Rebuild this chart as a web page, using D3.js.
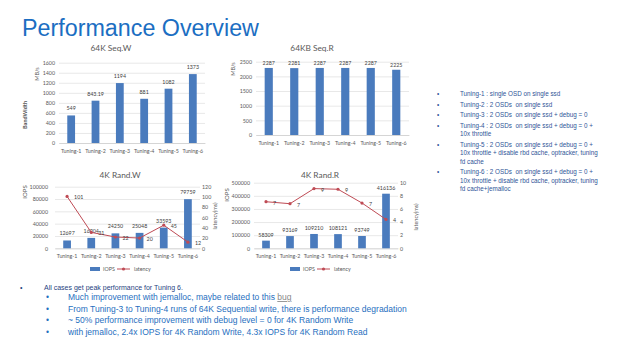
<!DOCTYPE html>
<html><head><meta charset="utf-8">
<script src="https://cdn.jsdelivr.net/npm/d3@7"></script>
<style>body{margin:0;background:#fff}svg{display:block}</style>
</head><body><svg id="c" width="640" height="360"></svg>
<script>
// ---------- data ----------
const categories = ["Tuning-1","Tuning-2","Tuning-3","Tuning-4","Tuning-5","Tuning-6"];
const seqWriteMBs = [549, 843.19, 1194, 881, 1082, 1373];
const seqReadMBs = [2287, 2281, 2287, 2287, 2287, 2225];
const randWriteIOPS = [12697, 16904, 24250, 25048, 33593, 79759];
const randWriteLatency = [101, 31, 22, 20, 45, 12];
const randReadIOPS = [58309, 93169, 109210, 108121, 93749, 416136];
const randReadLatency = [7.1, 6.8, 9.1, 9.0, 6.9, 4.4];
const seqWriteTicks = [0,200,400,600,800,1000,1200,1400,1600];
const seqReadTicks = [0,500,1000,1500,2000,2500];
const randWriteTicks = [0,20000,40000,60000,80000,100000];
const randWriteLatTicks = [0,20,40,60,80,100,120];
const randReadTicks = [0,100000,200000,300000,400000,500000];
const randReadLatTicks = [0,2,4,6,8,10];
const tuningNotes = [
  ["Tuning-1 : single OSD on single ssd"],
  ["Tuning-2 : 2 OSDs  on single ssd"],
  ["Tuning-3 : 2 OSDs  on single ssd + debug = 0"],
  ["Tuning-4 : 2 OSDs  on single ssd + debug = 0 +", "10x throttle"],
  ["Tuning-5 : 2 OSDs  on single ssd + debug = 0 +", "10x throttle + disable rbd cache, optracker, tuning", "fd cache"],
  ["Tuning-6 : 2 OSDs  on single ssd + debug = 0 +", "10x throttle + disable rbd cache, optracker, tuning", "fd cache+jemalloc"]
];
const summaryHead = "All cases get peak performance  for Tuning 6.";
const summaryPoints = [
  "Much improvement with jemalloc, maybe related to this ",
  "From Tuning-3  to Tuning-4  runs of 64K Sequential write,  there is performance degradation",
  "~ 50% performance improvement with debug level = 0 for 4K Random Write",
  "with jemalloc, 2.4x IOPS for 4K Random Write,  4.3x IOPS for 4K Random Read"
];

// ---------- drawing ----------
const svg = d3.select("#c");
const CF = "Lato, 'Open Sans', sans-serif";
const AF = "'Liberation Sans', Arial, sans-serif";
const BAR = "#4a7bbd", LINE = "#bf4b55", TXT = "#595959", GRID = "#d9d9d9";

svg.append("text").attr("x",22).attr("y",35.5).attr("font-family",AF)
  .attr("font-size",23.3).attr("fill","#1b6ec2").text("Performance Overview");

function chart(o){
  const g = svg.append("g");
  const x = d3.scaleBand().domain(categories).range([o.x0,o.x1]).paddingInner(0.68).paddingOuter(0.34);
  const y = d3.scaleLinear().domain([0,o.ticks[o.ticks.length-1]]).range([o.yBot,o.yTop]);
  const ya = g.append("g").attr("transform",`translate(${o.x0},0)`)
    .call(d3.axisLeft(y).tickValues(o.ticks).tickSize(-(o.x1-o.x0)).tickPadding(o.lpad||4).tickFormat(d3.format("d")));
  ya.select(".domain").remove();
  ya.selectAll("line").attr("stroke",GRID).attr("stroke-width",0.6);
  ya.selectAll("text").attr("font-family",CF).attr("font-size",5.3).attr("fill",TXT);
  const xa = g.append("g").attr("transform",`translate(0,${o.yBot})`)
    .call(d3.axisBottom(x).tickSize(0).tickPadding(o.xpad||6));
  xa.select(".domain").attr("stroke","#c8c8c8").attr("stroke-width",0.6);
  xa.selectAll("text").attr("font-family",CF).attr("font-size",5.3).attr("fill",TXT);
  g.selectAll("rect.bar").data(o.values).join("rect").attr("class","bar")
    .attr("x",(d,i)=>x(categories[i])).attr("width",x.bandwidth())
    .attr("y",d=>y(d)).attr("height",d=>o.yBot-y(d)).attr("fill",BAR);
  g.selectAll("text.vl").data(o.values).join("text").attr("class","vl")
    .attr("x",(d,i)=>x(categories[i])+x.bandwidth()/2).attr("y",d=>y(d)-(o.labelGap||3))
    .attr("text-anchor","middle").attr("font-family",CF).attr("font-size",5.3).attr("fill","#404040")
    .text(d=>String(d));
  g.append("text").attr("x",o.tx).attr("y",o.ty).attr("text-anchor","middle")
    .attr("font-family",CF).attr("font-size",8.3).attr("fill",TXT).text(o.title);
  (o.ytitles||[]).forEach(t=>{
    g.append("text").attr("transform",`translate(${t.x},${t.y}) rotate(-90)`).attr("text-anchor","middle")
      .attr("font-family",CF).attr("font-size",t.size||5.5).attr("font-weight",t.bold?"bold":null)
      .attr("fill",TXT).text(t.text);
  });
  if(o.lat){
    const y2 = d3.scaleLinear().domain([0,o.latTicks[o.latTicks.length-1]]).range([o.yBot,o.yTop]);
    const ra = g.append("g").attr("transform",`translate(${o.x1},0)`)
      .call(d3.axisRight(y2).tickValues(o.latTicks).tickSize(0).tickPadding(o.rpad||2));
    ra.select(".domain").remove();
    ra.selectAll("text").attr("font-family",CF).attr("font-size",5.3).attr("fill",TXT);
    const px = (d,i)=>x(categories[i])+x.bandwidth()/2;
    g.append("path").datum(o.lat).attr("fill","none").attr("stroke",LINE).attr("stroke-width",1)
      .attr("d",d3.line().x(px).y(d=>y2(d)));
    g.selectAll("circle.m").data(o.lat).join("circle").attr("class","m")
      .attr("cx",px).attr("cy",d=>y2(d)).attr("r",1.6).attr("fill",LINE);
    g.selectAll("text.ll").data(o.lat).join("text").attr("class","ll")
      .attr("x",(d,i)=>px(d,i)+7).attr("y",d=>y2(d)+3)
      .attr("font-family",CF).attr("font-size",5.3).attr("fill","#404040").text(d=>d3.format(".0f")(d));
    const lx = o.legX, ly = o.legY;
    g.append("rect").attr("x",lx).attr("y",ly-2).attr("width",10).attr("height",4).attr("fill",BAR);
    g.append("text").attr("x",lx+13).attr("y",ly+2).attr("font-family",CF).attr("font-size",5.3).attr("fill",TXT).text("IOPS");
    g.append("line").attr("x1",lx+27).attr("x2",lx+40).attr("y1",ly).attr("y2",ly).attr("stroke",LINE).attr("stroke-width",1);
    g.append("circle").attr("cx",lx+33.5).attr("cy",ly).attr("r",1.6).attr("fill",LINE);
    g.append("text").attr("x",lx+44).attr("y",ly+2).attr("font-family",CF).attr("font-size",5.3).attr("fill",TXT).text("latency");
  }
}

chart({x0:59,x1:205,yTop:62.7,yBot:143,ticks:seqWriteTicks,values:seqWriteMBs,title:"64K Seq.W",tx:111,ty:51,
  ytitles:[{x:39,y:74,text:"MB/s"},{x:27,y:115,text:"BandWidth",bold:true}],labelGap:5});
chart({x0:256,x1:409,yTop:61.7,yBot:135,ticks:seqReadTicks,values:seqReadMBs,title:"64KB Seq.R",tx:312,ty:51,
  ytitles:[{x:235,y:69,text:"MB/s"}],labelGap:3});
chart({x0:55,x1:200,yTop:186.7,yBot:248.3,ticks:randWriteTicks,values:randWriteIOPS,title:"4K Rand.W",tx:120,ty:178,
  ytitles:[{x:27,y:192,text:"IOPS",size:6},{x:217,y:216,text:"latency(ms)"}],lpad:7,
  lat:randWriteLatency,latTicks:randWriteLatTicks,legX:90,legY:269,labelGap:5});
chart({x0:254,x1:398,yTop:182.7,yBot:248.3,ticks:randReadTicks,values:randReadIOPS,title:"4K Rand.R",tx:320,ty:178,
  ytitles:[{x:229,y:195,text:"IOPS",size:6},{x:418,y:217,text:"latency(ms)"}],lpad:4,
  lat:randReadLatency,latTicks:randReadLatTicks,legX:290,legY:269,labelGap:4});

const NC = "#2f5597";
let ny = 96;
tuningNotes.forEach(lines=>{
  svg.append("text").attr("x",437).attr("y",ny).attr("font-family",AF).attr("font-size",6.3).attr("fill",NC).text("•");
  lines.forEach((l,j)=>{
    svg.append("text").attr("x",460).attr("y",ny).attr("font-family",AF).attr("font-size",6.3).attr("fill",NC)
      .attr("xml:space","preserve").text(l);
    ny += 8.35;
  });
  ny += 2.3;
});

svg.append("text").attr("x",20).attr("y",289.5).attr("font-family",AF).attr("font-size",7).attr("fill","#1f3f7f").text("•");
svg.append("text").attr("x",44).attr("y",289.5).attr("font-family",AF).attr("font-size",7).attr("fill","#1f3f7f").text(summaryHead);
summaryPoints.forEach((s,i)=>{
  const yy = 300 + i*11.5;
  svg.append("text").attr("x",46).attr("y",yy).attr("font-family",AF).attr("font-size",8.5).attr("fill","#1f6fc0").text("•");
  const t = svg.append("text").attr("x",68).attr("y",yy).attr("font-family",AF).attr("font-size",8.5).attr("fill","#1f6fc0").text(s);
  if(i===0) t.append("tspan").attr("fill","#888").attr("text-decoration","underline").text("bug");
});
</script></body></html>
